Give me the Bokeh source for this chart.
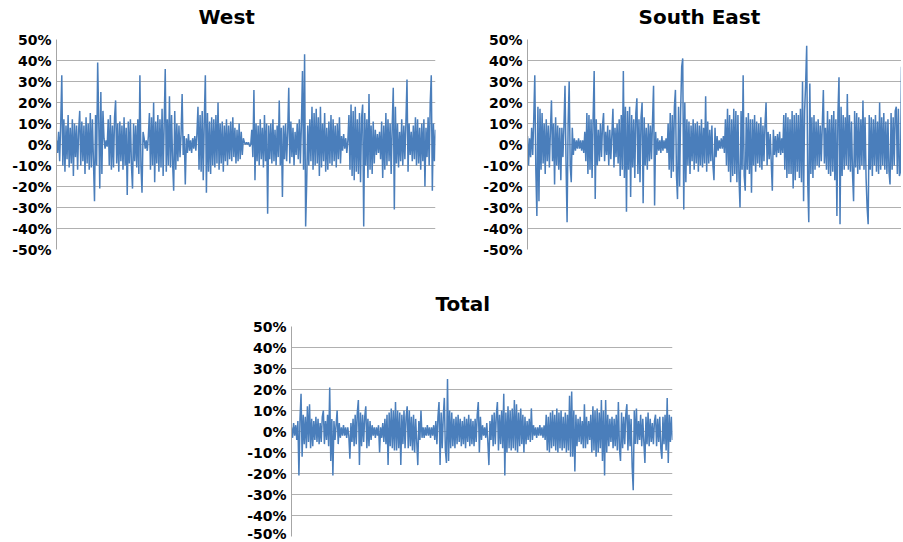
from bokeh.plotting import figure
from bokeh.layouts import column, row, Spacer
from bokeh.models import Range1d, FixedTicker, PrintfTickFormatter, Title
from bokeh.embed import file_html
from bokeh.resources import INLINE

titles = ["West", "South East", "Total"]
tick_values = [-50, -40, -30, -20, -10, 0, 10, 20, 30, 40, 50]

west = [
    2, -4, 6, -8, 10, 33, -10, 12, -13, 9, -7, 14, -11, 8, -9, 12, -15, 10, -6, 9,
    -12, 7, 16, -10, 11, -8, 9, -14, 13, -9, 10, -12, 15, -11, 12, -8, -27, 14, -10, 39,
    12, -21, 25, -14, 16, 3, -2, 2, -1, 12, -10, 14, -12, 9, -11, 13, 21, -9, 10, -13,
    11, -8, 9, -12, 13, -10, 8, -24, 11, -9, 12, -10, -21, 10, -8, 9, -11, 12, -14, 33,
    -10, -23, 6, 3, -2, 2, -3, 4, 15, -12, 13, -10, 20, -18, 11, -9, 14, -13, 12, -11,
    17, -15, 10, 36, -13, 12, -10, 23, -11, 14, -9, -22, 16, -12, 10, -8, 9, -6, 5, 24,
    -5, 4, -19, 3, -4, 5, -3, 2, -4, 3, -2, 4, -3, 5, 18, -12, 14, -13, 16, -17,
    12, 33, -23, 15, -13, 11, -14, 13, -10, 12, -11, 14, -9, 20, -12, 10, -9, 11, -13, 9,
    -8, 12, -10, 9, -7, 11, -8, 13, -6, 8, -9, 7, -8, 10, -7, 6, -5, 3, 1, 0,
    1, 0, 1, -1, 0, 7, -6, 26, -17, 10, -8, 9, -10, 12, -7, 8, -11, 14, -8, 10,
    -33, 9, -7, 10, -9, 12, -8, 7, -10, 9, -6, 21, -10, 8, -25, 9, -7, 10, -8, 6,
    27, -9, 11, -6, 8, -10, 6, -5, 10, -7, 12, -9, 10, 35, -12, 43, -39, -18, 9, -10,
    12, -8, 18, -12, 15, -10, 17, -9, 13, -15, 18, -11, 10, -8, 15, -13, 8, -12, 11, -9,
    14, -10, 12, -8, 9, -11, 10, -7, 13, -9, 4, -3, 5, -2, 3, -4, 2, 14, -12, 19,
    -15, 16, -17, 18, -13, 12, -14, 15, -18, 13, 19, -39, 15, -10, 12, -16, 24, -12, 9, -14,
    11, -9, 7, -5, 5, -4, 6, -7, 11, -16, 9, -12, 15, -10, 12, -8, 10, -14, 9, 27,
    -31, 18, -9, 10, -11, 6, -8, 12, -10, 9, -7, 11, 31, -13, 10, -5, 6, -8, 9, -7,
    13, -10, 12, -9, 8, -12, 10, -8, 12, -20, 8, -6, 13, -10, 20, 33, -22, 10, -8, 7,
]

south_east = [
    4, -10, 3, -6, 8, -5, 12, 33, -12, -34, 18, -27, 17, -12, 15, -9, 10, -14, 12, -8,
    9, -11, 7, 21, -8, 10, -19, 13, -10, 9, -12, 8, -17, 8, -6, 9, 28, -9, -37, 10,
    30, -10, -18, 8, -5, 3, -3, 2, -2, 3, -2, 2, -3, 2, -4, 6, -8, 15, -14, 14,
    -12, 12, -16, 13, 35, -26, 12, -10, 7, -8, 10, -6, 9, 15, -8, 6, -5, 9, -10, 7,
    -7, 5, 17, -11, 8, -6, 10, -9, 12, -15, 14, -12, 35, -16, 18, -32, 16, -12, 18, -25,
    14, -11, 12, -16, 15, 22, -14, 12, -18, 13, 20, -28, 13, -10, 8, -12, 10, -8, 9, -7,
    11, 28, -29, 6, -5, 3, -3, 2, -4, 4, -3, 2, -2, 3, -4, 10, -12, 15, -16, 14,
    -13, 18, 26, -15, -26, 18, -20, 16, 37, 41, -31, 20, -18, 12, -10, 11, -14, 9, -8, 12,
    -12, 10, -9, 11, -13, 9, -10, 12, -11, 8, -9, 23, -13, 11, -9, 7, -8, 9, -10, -17,
    8, -6, 4, -3, 2, -2, 3, -2, 4, -4, 12, -10, 17, -13, 14, -18, 12, -15, 17, -14,
    16, -18, 14, -16, -30, 16, -12, 33, -15, -22, 13, -12, 15, -14, 12, -23, 12, -10, 14, -13,
    11, -9, 10, -11, 13, -12, 9, -8, 10, 20, -10, 6, -7, 5, -9, -22, 7, -5, 4, -6,
    5, -4, 6, -5, 3, -4, 14, -12, 15, -16, 13, -14, 12, -14, 16, -21, 14, -17, 15, -13,
    14, -16, 17, -18, 30, -27, 16, 29, 47, -18, -37, 29, -14, 13, -16, 14, -12, 11, -10, 12,
    -11, 9, -8, 10, 26, -9, 8, -12, 16, -14, 12, -15, 14, -13, 16, -17, 12, -34, 15, 32,
    -38, 18, -15, 14, -12, 13, -10, 24, -12, 14, -13, 11, -14, -27, 16, -11, 15, -14, 13, -12,
    12, -10, 21, -12, 13, -16, -30, -38, 14, -12, 13, -15, 12, -10, 14, -13, 11, -14, 20, -12,
    13, -10, 15, -12, 11, -14, 12, -13, -19, 15, -12, 13, -10, 16, 18, -14, 17, -15, -13, 37,
]

total = [
    2, -3, 4, -2, 3, -4, 5, -21, 6, 18, -12, 8, -6, 7, -8, 12, -5, 13, -8, 6,
    -7, 5, -4, 7, -5, 6, -6, 4, -5, 7, 10, -6, 5, -4, 8, -7, 21, -14, 6, -21,
    5, -4, 3, 10, -6, 4, -3, 2, -2, 3, -2, 2, -3, 2, -2, -13, 4, -5, 6, -7,
    8, -6, 9, 15, -16, 9, -7, 8, -5, 7, 12, -8, 6, -7, 5, -4, 3, -2, 2, -3,
    2, -2, 3, -10, 2, -3, 4, -5, 6, -6, 8, -16, 9, -7, 11, -8, 10, -9, 14, -9,
    10, -8, 9, -16, 8, -6, 10, -8, 7, 12, -8, 10, -7, 7, -9, 8, -10, 6, -5, -16,
    5, -4, 10, -3, 2, -3, 2, -2, 3, -2, 2, -3, 2, -2, 3, -4, 5, -6, 7, 14,
    -16, 9, -8, 7, 16, -9, -15, 25, -14, 10, -8, 9, -7, 6, -8, 7, -6, 8, -5, 6,
    -7, 5, -6, 7, -8, 6, -5, 8, -7, 6, -6, 5, -7, 6, -5, 8, 14, -10, 7, -4,
    3, -2, 2, -3, 4, -5, -16, 5, -4, 8, -7, 9, -6, 8, 14, -9, 8, -6, 10, -8,
    18, -21, 9, -10, 12, -8, 10, -9, 11, -8, 15, -9, 13, -10, 9, -7, 11, -6, 8, -10,
    7, -6, 5, -4, 6, -5, 11, -4, 3, -2, 2, -3, 2, -2, 3, -2, 2, -3, 3, -4,
    8, -9, 7, -10, 9, -8, 10, -7, 8, -9, 11, -10, 9, -8, 10, -9, 7, -8, 9, -10,
    8, -9, 17, -12, 19, -12, 10, -19, 8, -7, 6, -5, 7, -6, 5, -8, 13, -8, 7, -6,
    5, -4, 8, -10, 12, -9, 10, -12, 11, -10, 9, -8, 15, -14, 10, -21, 15, -10, 8, -7,
    6, -5, 7, -8, 6, -7, 8, -9, 14, -8, -14, 9, -8, 7, -6, 8, 13, -9, 8, -7,
    6, -17, -28, 10, -6, 11, -6, 5, -4, 8, -7, 6, -5, -15, 7, -6, 9, -7, 6, -5,
    4, -6, 5, 8, -7, 6, -5, 7, -8, -13, 7, -6, 8, -9, 16, -15, 8, -5, 7, -4,
]

LINE = "#4a7ebb"
GRID = "#b0b0b0"
FONT = "DejaVu Sans"


def make(title, values, left, fw, right, top, fh, bottom, title_offset):
    p = figure(frame_width=fw, frame_height=fh,
               min_border_left=left, min_border_right=right,
               min_border_top=top, min_border_bottom=bottom,
               x_range=Range1d(0, len(values) - 1), y_range=Range1d(-50, 50),
               output_backend="svg", toolbar_location=None, title=title)
    p.line(list(range(len(values))), values, line_color=LINE, line_width=1.5)
    p.outline_line_color = None
    p.xaxis.visible = False
    p.xgrid.visible = False
    p.ygrid.ticker = FixedTicker(ticks=tick_values)
    p.ygrid.grid_line_color = GRID
    ax = p.yaxis[0]
    ax.ticker = FixedTicker(ticks=tick_values)
    ax.formatter = PrintfTickFormatter(format="%d%%")
    ax.major_tick_in = 0
    ax.major_tick_out = 0
    ax.minor_tick_in = 0
    ax.minor_tick_out = 0
    ax.axis_line_color = "#a6a6a6"
    ax.major_label_standoff = 5
    ax.major_label_text_font = FONT
    ax.major_label_text_font_size = "14px"
    ax.major_label_text_font_style = "bold"
    ax.major_label_text_color = "#000000"
    p.title.align = "left"
    p.title.vertical_align = "top"
    p.title.offset = title_offset
    p.title.standoff = 6
    p.title.text_font = FONT
    p.title.text_font_size = "20px"
    p.title.text_font_style = "bold"
    p.title.text_color = "#000000"
    # thin invisible spacer between the title and the plot area
    p.add_layout(Title(text=" ", text_font_size="1px", standoff=3), "above")
    return p


p1 = make(titles[0], west, 56, 379, 42, 39, 210, 38, 142)
p2 = make(titles[1], south_east, 50, 374, 0, 39, 210, 38, 111)
p3 = make(titles[2], total, 50, 381, 10, 39, 210, 5, 144)

layout = column(row(p1, p2), row(Spacer(width=241, height=10), p3))

open("out.html", "w").write(file_html(layout, INLINE))
